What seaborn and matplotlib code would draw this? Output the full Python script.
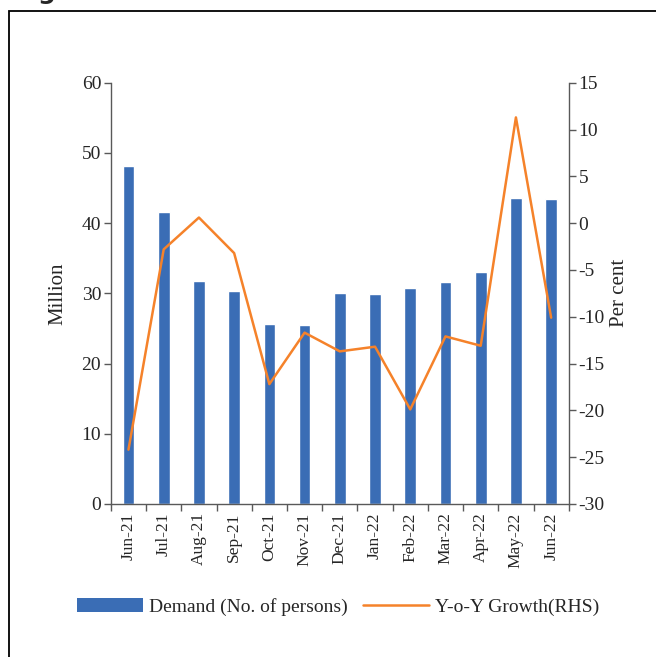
import numpy as np
import pandas as pd
import seaborn as sns
from matplotlib import pyplot as plt
from matplotlib.patches import Patch, Rectangle
from matplotlib.lines import Line2D
from matplotlib.ticker import FixedLocator

months = ['Jun-21', 'Jul-21', 'Aug-21', 'Sep-21', 'Oct-21', 'Nov-21', 'Dec-21',
          'Jan-22', 'Feb-22', 'Mar-22', 'Apr-22', 'May-22', 'Jun-22']
demand = [48.1, 41.6, 31.7, 30.3, 25.7, 25.5, 30.1, 29.9, 30.8, 31.6, 33.0, 43.6, 43.4]
growth = [-24.2, -2.8, 0.6, -3.2, -17.2, -11.7, -13.7, -13.2, -19.9, -12.1, -13.1, 11.3, -10.1]

bar_color = '#3A6DB5'
line_color = '#F5822A'
axis_color = '#595959'

sns.set_style('white')
plt.rcParams['font.family'] = ['Liberation Serif', 'DejaVu Serif']
plt.rcParams['axes.unicode_minus'] = False

df = pd.DataFrame({'month': months, 'demand': demand, 'growth': growth,
                   'pos': np.arange(len(months))})

fig = plt.figure(figsize=(6.56, 6.57), dpi=100)
ax = fig.add_axes([0.169, 0.233, 0.698, 0.641])

sns.barplot(data=df, x='month', y='demand', color=bar_color, width=0.33,
            saturation=1, ax=ax)
ax.set_ylim(0, 60)
ax.set_yticks(range(0, 61, 10))
ax.set_xlim(-0.5, len(months) - 0.5)
ax.set_xlabel('')
ax.set_ylabel('Million', fontsize=15, labelpad=10)

ax2 = ax.twinx()
sns.lineplot(data=df, x='pos', y='growth', color=line_color, linewidth=1.8, ax=ax2)
ax2.set_ylim(-30, 15)
ax2.set_yticks(range(-30, 16, 5))
ax2.set_ylabel('Per cent', fontsize=15, labelpad=4)
ax2.set_xlim(-0.5, len(months) - 0.5)

# ticks between categories on the x axis
ax.xaxis.set_minor_locator(FixedLocator(np.arange(-0.5, len(months), 1.0)))
ax.tick_params(axis='x', which='major', length=0, labelsize=12.5, rotation=90, pad=6)
ax.tick_params(axis='x', which='minor', length=5, width=1, color=axis_color, direction='out', bottom=True)
ax.tick_params(axis='y', length=5, width=1, color=axis_color, direction='out', left=True, labelsize=14, pad=2)
ax2.tick_params(axis='y', length=5, width=1, color=axis_color, direction='out', right=True, labelsize=14, pad=2)

for a in (ax, ax2):
    a.spines['top'].set_visible(False)
    for s in ('left', 'right', 'bottom'):
        a.spines[s].set_color(axis_color)
        a.spines[s].set_linewidth(1)
ax.spines['right'].set_visible(False)
ax2.spines['left'].set_visible(False)
ax2.spines['bottom'].set_visible(False)

handles = [Patch(facecolor=bar_color, edgecolor='none', label='Demand (No. of persons)'),
           Line2D([0], [0], color=line_color, linewidth=1.8, label='Y-o-Y Growth(RHS)')]
fig.legend(handles=handles, loc='center', bbox_to_anchor=(0.515, 0.076), ncol=2,
           frameon=False, fontsize=14, handlelength=3.4, handletextpad=0.3,
           columnspacing=0.8)

# surrounding frame of the original figure box
fig.patches.append(Rectangle((9 / 656, -0.05), 1.2, 1 - 11 / 657 + 0.05,
                             transform=fig.transFigure, fill=False,
                             edgecolor='black', linewidth=1.3))
fig.text(0.058, 1.0015, 'g', fontsize=18, fontweight='bold', va='baseline',
         family='DejaVu Sans')

fig.savefig('out.png', dpi=100)
